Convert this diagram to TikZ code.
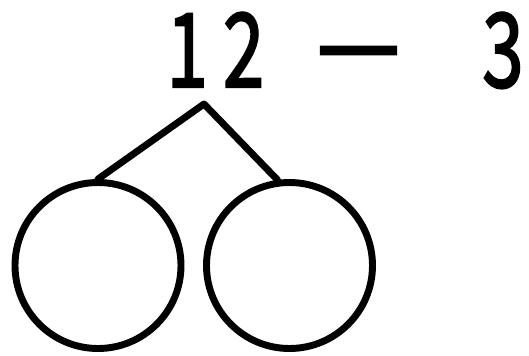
\documentclass[tikz,border=0pt]{standalone}
\usepackage{fontspec}
\setmainfont{Noto Sans CJK JP}[FakeBold=2.4]
\usepackage{tikz}
\usetikzlibrary{positioning, calc}

\begin{document}
\begin{tikzpicture}[
    x=0.75pt, y=-0.75pt,
    numtxt/.style={inner sep=0pt, anchor=base, text height=58pt, xscale=0.72, transform shape,
                   font=\fontsize{77pt}{77pt}\selectfont},
    signtxt/.style={inner sep=0pt, font=\fontsize{77pt}{77pt}\selectfont},
    part/.style={draw, circle, line width=5.2pt, minimum size=124.5pt, inner sep=0pt},
    branch/.style={line width=5.2pt, line cap=round, line join=round},
]
\useasboundingbox (0,0) rectangle (529,355);

% ─── Top: the subtraction ───
\node[numtxt]  at (215.5, 87) (num)   {1\kern16pt2};
\node[signtxt] at (358.5, 68) (minus) {－};
\node[numtxt]  at (503, 87)   (sub)   {3};

% ─── Bottom: the two parts ───
\node[part] at (98, 265.5)    (left)  {};
\node[part] at (289.5, 265.5) (right) {};

% ─── Branches ───
\coordinate (apex) at (204, 104);
\draw[branch] (left.north) -- (apex) -- (right.98);

\end{tikzpicture}
\end{document}
